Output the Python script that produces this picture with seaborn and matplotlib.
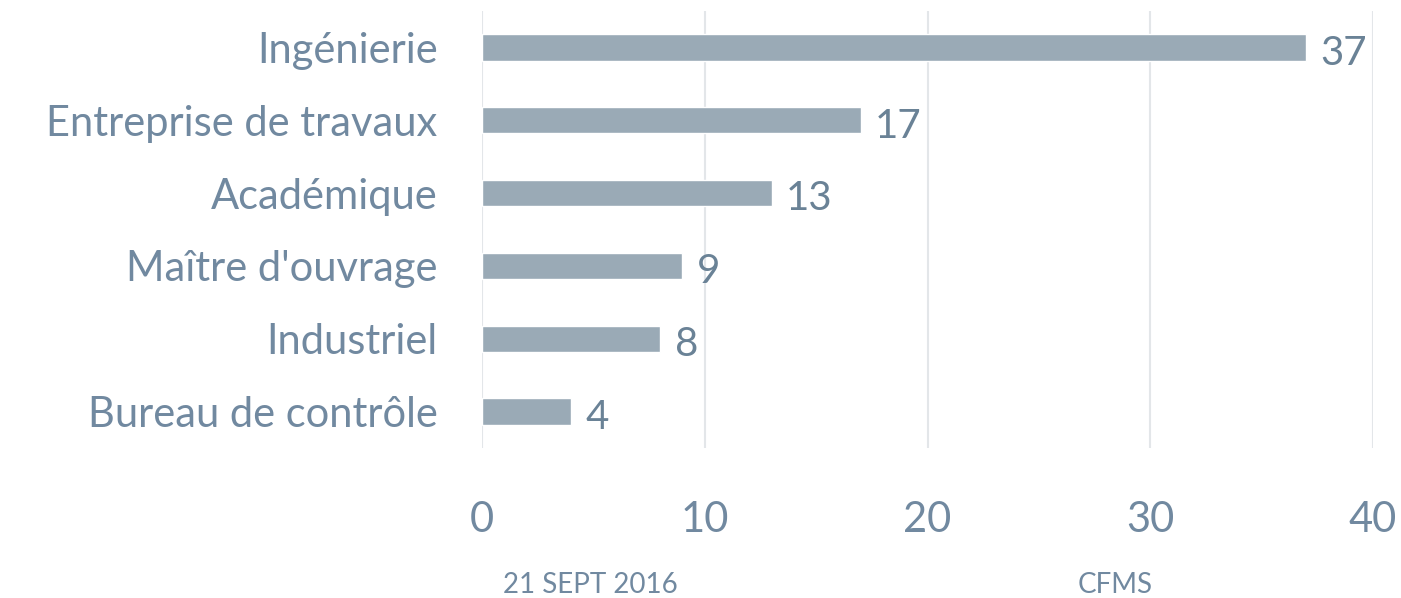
import matplotlib
matplotlib.use("Agg")
import matplotlib.pyplot as plt
import seaborn as sns
import pandas as pd

categories = ["Ingénierie", "Entreprise de travaux", "Académique",
              "Maître d'ouvrage", "Industriel", "Bureau de contrôle"]
counts = [37, 17, 13, 9, 8, 4]
xticks = [0, 10, 20, 30, 40]

bar_color = "#9aaab6"
text_color = "#7189a0"
grid_color = "#e3e6e9"

sns.set_style("white")
plt.rcParams['font.family'] = ['Lato', 'DejaVu Sans']

df = pd.DataFrame({"cat": categories, "n": counts})

fig = plt.figure(figsize=(14.01, 5.98), dpi=100)
ax = fig.add_axes([482 / 1401, 1 - 448 / 598, (1373 - 482) / 1401, (448 - 11) / 598])

sns.barplot(data=df, x="n", y="cat", color=bar_color, width=0.36,
            saturation=1, ax=ax, zorder=3)

ax.set_xlim(0, 40)
ax.set_ylim(5.5, -0.5)
ax.set_xticks(xticks)
ax.xaxis.grid(True, color=grid_color, linewidth=1.5, zorder=0)
ax.yaxis.grid(False)
for s in ax.spines.values():
    s.set_visible(False)
ax.set_xlabel("")
ax.set_ylabel("")
ax.tick_params(axis="x", length=0, pad=38, labelsize=30, labelcolor=text_color)
ax.tick_params(axis="y", length=0, pad=32, labelsize=30, labelcolor=text_color)

for i, v in enumerate(counts):
    ax.text(v + 0.65, i + 0.08, str(v), va="center", ha="left",
            fontsize=29, color="#6a8296")

fig.text(590 / 1401, 1 - 585 / 598, "21 SEPT 2016", ha="center", va="center",
         fontsize=20, color=text_color)
fig.text(1115 / 1401, 1 - 585 / 598, "CFMS", ha="center", va="center",
         fontsize=20, color=text_color)

fig.savefig("out.png", dpi=100)
